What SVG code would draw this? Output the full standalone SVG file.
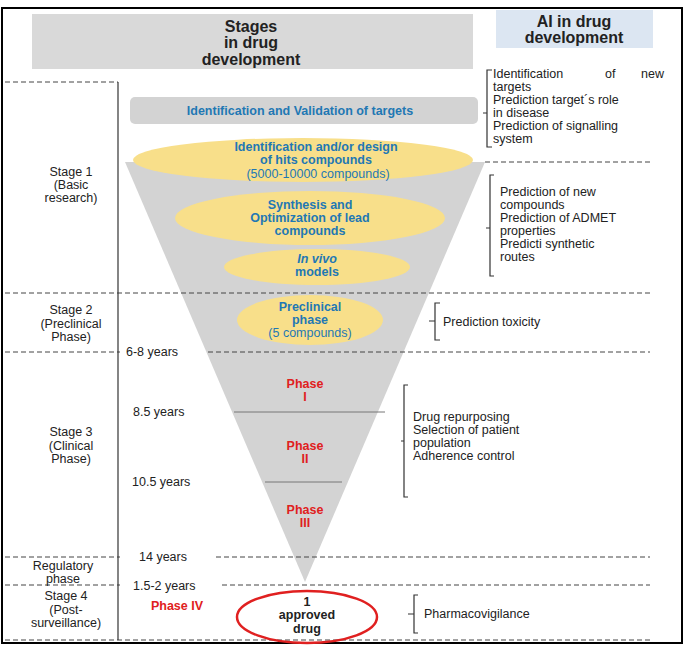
<svg xmlns="http://www.w3.org/2000/svg" width="685" height="647" viewBox="0 0 685 647">
<style>
text{font-family:"Liberation Sans",Arial,sans-serif;font-size:12.5px;fill:#222}
.b{font-weight:bold}
.blue{fill:#1f78b4;font-weight:bold}
.red{fill:#e02020;font-weight:bold}
.h{font-weight:bold;font-size:16px}
.dash{stroke:#444;stroke-width:1;stroke-dasharray:5,3;fill:none}
.br{stroke:#333;stroke-width:1.2;fill:none}
.ell{fill:#f8df8a}
</style>
<rect x="2" y="8" width="680" height="635" fill="#fff" stroke="#000" stroke-width="2"/>
<g id="headers">
<rect x="32" y="14" width="441" height="55" fill="#d9d9d9"/>
<text class="h" x="251" y="32" text-anchor="middle">Stages</text>
<text class="h" x="251" y="48" text-anchor="middle">in drug</text>
<text class="h" x="251" y="65" text-anchor="middle">development</text>
<rect x="496" y="10" width="157" height="38" fill="#dce6f2"/>
<text class="h" x="574" y="27" text-anchor="middle">AI in drug</text>
<text class="h" x="574" y="43" text-anchor="middle">development</text>
</g>
<g id="funnel"><polygon points="125,162 485,162 305,582" fill="#d3d3d3"/></g>
<g id="connectors">
<path class="dash" d="M5 82H118M485 162H650M5 293H650M5 352H120M208 352H650M5 557H120M216 557H650M5 585H120M222 585H650M5 640H650"/>
<path d="M118 82V640" stroke="#333" stroke-width="1.2"/>
<path d="M234 412H385M265 482H342" stroke="#777" stroke-width="1"/>
<path class="br" d="M492 70H487V147H492M487 113H483"/>
<path class="br" d="M494 175H490V276H494M490 228H486"/>
<path class="br" d="M440 303H435V340H440M435 321H429"/>
<path class="br" d="M408 385H404V497H408M404 441H401"/>
<path class="br" d="M418 595H414V633H418M414 614H408"/>
</g>
<g id="targets">
<rect x="130" y="97" width="348" height="27" rx="5" fill="#d3d3d3"/>
<text class="blue" x="300" y="115" text-anchor="middle">Identification and Validation of targets</text>
</g>
<g id="hits">
<ellipse class="ell" cx="303" cy="160" rx="170" ry="22"/>
<text class="blue" x="316" y="151" text-anchor="middle">Identification and/or design</text>
<text class="blue" x="316" y="164" text-anchor="middle">of hits compounds</text>
<text x="318" y="178" text-anchor="middle" style="fill:#1f78b4">(5000-10000 compounds)</text>
</g>
<g id="synthesis">
<ellipse class="ell" cx="310" cy="218" rx="135" ry="27"/>
<text class="blue" x="310" y="209" text-anchor="middle">Synthesis and</text>
<text class="blue" x="310" y="222" text-anchor="middle">Optimization of lead</text>
<text class="blue" x="310" y="235" text-anchor="middle">compounds</text>
</g>
<g id="invivo">
<ellipse class="ell" cx="317" cy="267" rx="93" ry="18"/>
<text class="blue" x="317" y="263" text-anchor="middle" font-style="italic">In vivo</text>
<text class="blue" x="317" y="276" text-anchor="middle">models</text>
</g>
<g id="preclinical">
<ellipse class="ell" cx="310" cy="320" rx="73" ry="25"/>
<text class="blue" x="310" y="311" text-anchor="middle">Preclinical</text>
<text class="blue" x="310" y="324" text-anchor="middle">phase</text>
<text x="310" y="337" text-anchor="middle" style="fill:#1f78b4">(5 compounds)</text>
</g>
<g id="phases">
<text class="red" x="305" y="388" text-anchor="middle">Phase</text>
<text class="red" x="305" y="401" text-anchor="middle">I</text>
<text class="red" x="305" y="450" text-anchor="middle">Phase</text>
<text class="red" x="305" y="463" text-anchor="middle">II</text>
<text class="red" x="305" y="514" text-anchor="middle">Phase</text>
<text class="red" x="305" y="527" text-anchor="middle">III</text>
<text class="red" x="177" y="610" text-anchor="middle">Phase IV</text>
</g>
<g id="approved">
<ellipse cx="307" cy="617" rx="70" ry="26" fill="none" stroke="#e02020" stroke-width="2.5"/>
<text class="b" x="307" y="606" text-anchor="middle">1</text>
<text class="b" x="307" y="619" text-anchor="middle">approved</text>
<text class="b" x="307" y="633" text-anchor="middle">drug</text>
</g>
<g id="stages">
<text x="71" y="176" text-anchor="middle">Stage 1</text>
<text x="71" y="189" text-anchor="middle">(Basic</text>
<text x="71" y="202" text-anchor="middle">research)</text>
<text x="71" y="314" text-anchor="middle">Stage 2</text>
<text x="71" y="328" text-anchor="middle">(Preclinical</text>
<text x="71" y="341" text-anchor="middle">Phase)</text>
<text x="71" y="436" text-anchor="middle">Stage 3</text>
<text x="71" y="450" text-anchor="middle">(Clinical</text>
<text x="71" y="463" text-anchor="middle">Phase)</text>
<text x="63" y="570" text-anchor="middle">Regulatory</text>
<text x="63" y="583" text-anchor="middle">phase</text>
<text x="66" y="600" text-anchor="middle">Stage 4</text>
<text x="66" y="614" text-anchor="middle">(Post-</text>
<text x="66" y="627" text-anchor="middle">surveillance)</text>
</g>
<g id="years">
<text x="126" y="356">6-8 years</text>
<text x="133" y="416">8.5 years</text>
<text x="132" y="486">10.5 years</text>
<text x="139" y="561">14 years</text>
<text x="133" y="590">1.5-2 years</text>
</g>
<g id="ai">
<text x="493" y="78">Identification<tspan x="605">of</tspan><tspan x="641">new</tspan></text>
<text x="493" y="91">targets</text>
<text x="493" y="104">Prediction target´s role</text>
<text x="493" y="117">in disease</text>
<text x="493" y="130">Prediction of signalling</text>
<text x="493" y="143">system</text>
<text x="500" y="196">Prediction of new</text>
<text x="500" y="209">compounds</text>
<text x="500" y="222">Prediction of ADMET</text>
<text x="500" y="235">properties</text>
<text x="500" y="248">Predicti synthetic</text>
<text x="500" y="261">routes</text>
<text x="443" y="326">Prediction toxicity</text>
<text x="413" y="421">Drug repurposing</text>
<text x="413" y="434">Selection of patient</text>
<text x="413" y="447">population</text>
<text x="413" y="460">Adherence control</text>
<text x="424" y="618">Pharmacovigilance</text>
</g>
</svg>
